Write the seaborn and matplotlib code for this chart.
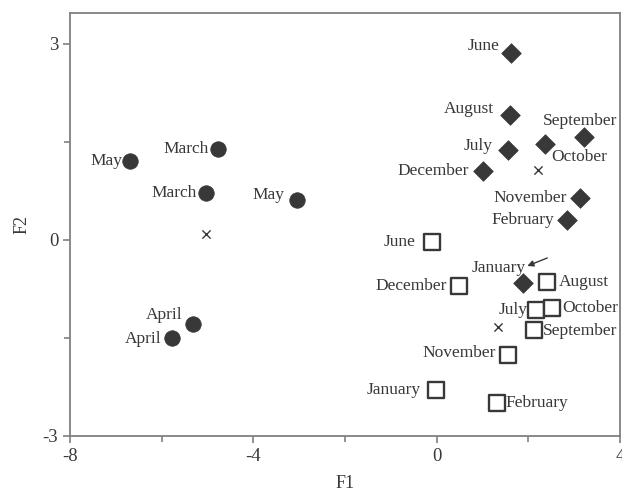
import numpy as np
import pandas as pd
import seaborn as sns
import matplotlib.pyplot as plt
from matplotlib.transforms import offset_copy

# group 1: filled circles
circ_lab = ["May", "March", "March", "May", "April", "April"]
circ_x = [-6.68, -4.76, -5.04, -3.04, -5.32, -5.78]
circ_y = [1.21, 1.39, 0.72, 0.61, -1.29, -1.50]

# group 2: filled diamonds
diam_lab = ["June", "August", "July", "December", "October", "September",
            "November", "February", "January"]
diam_x = [1.62, 1.59, 1.56, 1.00, 2.36, 3.22, 3.13, 2.84, 1.89]
diam_y = [2.86, 1.91, 1.37, 1.05, 1.47, 1.57, 0.64, 0.31, -0.66]

# group 3: open squares
sq_lab = ["June", "December", "August", "July", "October", "September",
          "November", "January", "February"]
sq_x = [-0.11, 0.49, 2.40, 2.17, 2.51, 2.12, 1.55, -0.02, 1.31]
sq_y = [-0.04, -0.71, -0.64, -1.07, -1.04, -1.38, -1.76, -2.30, -2.49]

# group centroids
cen_x = [-5.04, 2.20, 1.33]
cen_y = [0.09, 1.07, -1.34]

# label offsets in pixels (dx, dy, ha)
circ_off = [(-8, 0, "right"), (-10, 0, "right"), (-9, 0, "right"),
            (-13, 5, "right"), (-10, 9, "right"), (-10, -1, "right")]
diam_off = [(-11, 7, "right"), (-16, 6, "right"), (-16, 4, "right"),
            (-14, 0, "right"), (6, -13, "left"), (-4, 16, "center"),
            (-13, 0, "right"), (-13, 0, "right"), (2, 15, "right")]
sq_off = [(-16, 0, "right"), (-12, 0, "right"), (12, 0, "left"),
          (-9, 0, "right"), (11, 0, "left"), (9, -1, "left"),
          (-12, 2, "right"), (-15, 0, "right"), (9, 0, "left")]

sns.set_style("ticks")
plt.rcParams['font.family'] = ['Liberation Serif', 'DejaVu Serif']
plt.rcParams['axes.unicode_minus'] = False

dark = "#383838"
fig = plt.figure(figsize=(6.22, 4.96), dpi=100)
ax = fig.add_axes([0.1125, 0.121, 0.8843, 0.853])

df_c = pd.DataFrame({"F1": circ_x, "F2": circ_y, "lab": circ_lab})
df_d = pd.DataFrame({"F1": diam_x, "F2": diam_y, "lab": diam_lab})
df_s = pd.DataFrame({"F1": sq_x, "F2": sq_y, "lab": sq_lab})
df_x = pd.DataFrame({"F1": cen_x, "F2": cen_y})

sns.scatterplot(data=df_c, x="F1", y="F2", marker="o", s=125, color=dark,
                edgecolor=dark, linewidth=0.5, ax=ax, zorder=3)
sns.scatterplot(data=df_d, x="F1", y="F2", marker="D", s=100, color=dark,
                edgecolor=dark, linewidth=0.5, ax=ax, zorder=3)
sns.scatterplot(data=df_s, x="F1", y="F2", marker="s", s=135, facecolor="white",
                edgecolor=dark, linewidth=1.7, ax=ax, zorder=3)
sns.scatterplot(data=df_x, x="F1", y="F2", marker="x", s=35, color=dark,
                linewidth=1.0, ax=ax, zorder=3)

for df, offs in [(df_c, circ_off), (df_d, diam_off), (df_s, sq_off)]:
    for (xx, yy, lab), (dx, dy, ha) in zip(df[["F1", "F2", "lab"]].values, offs):
        ax.annotate(lab, (xx, yy), xytext=(dx, dy), textcoords="offset pixels",
                    ha=ha, va="center", fontsize=12.5, color=dark)

# arrow pointing to the January diamond
head = offset_copy(ax.transData, fig=fig, x=4, y=17, units="dots")
ax.annotate("", xy=(diam_x[8], diam_y[8]), xycoords=head, xytext=(20, 8),
            textcoords="offset pixels",
            arrowprops=dict(arrowstyle="-|>", color=dark, lw=1.0,
                            shrinkA=0, shrinkB=0, mutation_scale=9))

ax.set_xlim(-8, 4)
ax.set_ylim(-3, 3.47)
ax.set_xticks([-8, -4, 0, 4])
ax.set_xticks([-6, -2, 2], minor=True)
ax.set_yticks([-3, 0, 3])
ax.set_yticks([-1.5, 1.5], minor=True)
ax.tick_params(which="both", direction="out", color="#808080", width=1.2,
               labelsize=13.5, labelcolor=dark)
ax.tick_params(which="major", length=5)
ax.tick_params(which="minor", length=4)
for sp in ax.spines.values():
    sp.set_visible(True)
    sp.set_color("#808080")
    sp.set_linewidth(1.3)
ax.set_xlabel("F1", fontsize=13, color=dark, labelpad=7)
ax.set_ylabel("F2", fontsize=13, color=dark, labelpad=9)

fig.savefig("out.png", dpi=100)
